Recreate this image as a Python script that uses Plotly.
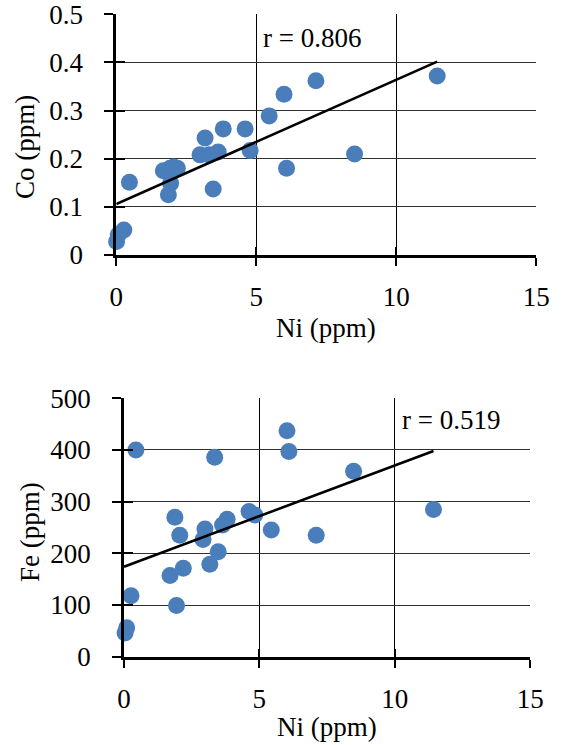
import plotly.graph_objects as go

# ---- data ----
ni_co = [0.01, 0.07, 0.27, 0.47, 1.68, 1.92, 2.05, 2.18, 1.94, 1.86, 2.99, 3.17,
         3.32, 3.64, 3.82, 3.46, 4.60, 4.78, 5.46, 5.99, 6.08, 7.13, 8.51, 11.46]
co = [0.028, 0.042, 0.052, 0.151, 0.175, 0.180, 0.183, 0.180, 0.149, 0.125, 0.208, 0.243,
      0.208, 0.214, 0.262, 0.137, 0.262, 0.217, 0.289, 0.334, 0.180, 0.362, 0.210, 0.372]

ni_fe = [0.04, 0.10, 0.26, 0.44, 1.70, 1.88, 1.94, 2.06, 2.19, 2.99, 2.92, 3.17,
         3.35, 3.48, 3.64, 3.81, 4.62, 4.83, 5.44, 6.02, 6.09, 7.10, 8.48, 11.43]
fe = [46, 56, 118, 400, 157, 270, 99, 235, 171, 247, 227, 179,
      386, 203, 255, 266, 281, 274, 245, 437, 397, 235, 359, 285]

# trend lines (intercept, slope)
co_trend = (0.106, 0.0258)
fe_trend = (174.0, 19.6)
co_r_label = "r = 0.806"
fe_r_label = "r = 0.519"

x_ticks = [0, 5, 10, 15]
co_ticks = [0, 0.1, 0.2, 0.3, 0.4, 0.5]
fe_ticks = [0, 100, 200, 300, 400, 500]

FONT = "Liberation Serif"
FS = 27
BLUE = "#4a7ebb"

fig = go.Figure()

def add_panel(xs, ys, trend, xa, ya):
    fig.add_trace(go.Scatter(x=xs, y=ys, mode="markers", xaxis=xa, yaxis=ya,
                             marker=dict(size=17, color=BLUE), showlegend=False,
                             cliponaxis=False))
    xl = [0, max(xs)]
    yl = [trend[0] + trend[1] * v for v in xl]
    fig.add_trace(go.Scatter(x=xl, y=yl, mode="lines", xaxis=xa, yaxis=ya,
                             line=dict(color="black", width=2.6), showlegend=False))

add_panel(ni_co, co, co_trend, "x", "y")
add_panel(ni_fe, fe, fe_trend, "x2", "y2")
# dummy traces for overlay axes drawing the inner halves of the crossing ticks
fig.add_trace(go.Scatter(x=[None], y=[None], xaxis="x3", yaxis="y3", showlegend=False))
fig.add_trace(go.Scatter(x=[None], y=[None], xaxis="x4", yaxis="y4", showlegend=False))

top_x = [0.2073, 0.956]
top_y = [0.6577, 0.9808]
bot_x = [0.221, 0.945]
bot_y = [0.1185, 0.4654]

tickfont = dict(family=FONT, size=FS, color="black")

def xaxis(domain, anchor):
    return dict(domain=domain, anchor=anchor, range=[0, 15], tickvals=x_ticks,
                showgrid=True, gridcolor="black", gridwidth=1.2, automargin=False,
                showline=True, linecolor="black", linewidth=2.6, mirror=False,
                ticks="outside", ticklen=8, tickwidth=2.4, tickcolor="black",
                ticklabelstandoff=8, ticklabeloverflow="allow",
                tickfont=tickfont, zeroline=False, fixedrange=True)

def yaxis(domain, anchor, rng, vals):
    return dict(domain=domain, anchor=anchor, range=rng, tickvals=vals,
                showgrid=True, gridcolor="#303030", gridwidth=1.2, automargin=False,
                showline=True, linecolor="black", linewidth=2.8,
                ticks="outside", ticklen=9, tickwidth=2.4, tickcolor="black",
                ticklabelstandoff=16, ticklabeloverflow="allow",
                tickfont=tickfont, zeroline=False, fixedrange=True)

def xin(domain, anchor, over):
    return dict(domain=domain, anchor=anchor, overlaying=over, range=[0, 15], tickvals=x_ticks,
                showgrid=False, showline=False, showticklabels=False, zeroline=False,
                automargin=False, ticks="inside", ticklen=8, tickwidth=2.4, tickcolor="black")

def yin(domain, anchor, over, rng, vals):
    return dict(domain=domain, anchor=anchor, overlaying=over, range=rng, tickvals=vals,
                showgrid=False, showline=False, showticklabels=False, zeroline=False,
                automargin=False, ticks="inside", ticklen=9, tickwidth=2.4, tickcolor="black")

fig.update_layout(
    template="none",
    width=561, height=745,
    margin=dict(l=0, r=0, t=0, b=0, pad=0),
    paper_bgcolor="white", plot_bgcolor="white",
    xaxis=xaxis(top_x, "y"),
    yaxis=yaxis(top_y, "x", [0, 0.5], co_ticks),
    xaxis2=xaxis(bot_x, "y2"),
    yaxis2=yaxis(bot_y, "x2", [0, 500], fe_ticks),
    xaxis3=xin(top_x, "y3", "x"),
    yaxis3=yin(top_y, "x3", "y", [0, 0.5], co_ticks),
    xaxis4=xin(bot_x, "y4", "x2"),
    yaxis4=yin(bot_y, "x4", "y2", [0, 500], fe_ticks),
    font=dict(family=FONT, size=FS, color="black"),
)

ann_font = dict(family=FONT, size=FS, color="black")
fig.add_annotation(x=5.15, y=0.45, xref="x", yref="y", text=co_r_label, showarrow=False,
                   xanchor="left", yanchor="middle", font=ann_font)
fig.add_annotation(x=10.2, y=458, xref="x2", yref="y2", text=fe_r_label, showarrow=False,
                   xanchor="left", yanchor="middle", font=ann_font)
# axis titles
fig.add_annotation(x=326 / 561, y=1 - 328 / 745, xref="paper", yref="paper", text="Ni (ppm)",
                   showarrow=False, xanchor="center", yanchor="middle", font=ann_font)
fig.add_annotation(x=327 / 561, y=1 - 727 / 745, xref="paper", yref="paper", text="Ni (ppm)",
                   showarrow=False, xanchor="center", yanchor="middle", font=ann_font)
fig.add_annotation(x=25 / 561, y=1 - 147 / 745, xref="paper", yref="paper", text="Co (ppm)",
                   showarrow=False, xanchor="center", yanchor="middle", textangle=-90, font=ann_font)
fig.add_annotation(x=30 / 561, y=1 - 532 / 745, xref="paper", yref="paper", text="Fe (ppm)",
                   showarrow=False, xanchor="center", yanchor="middle", textangle=-90, font=ann_font)

fig.write_html("out.html")
